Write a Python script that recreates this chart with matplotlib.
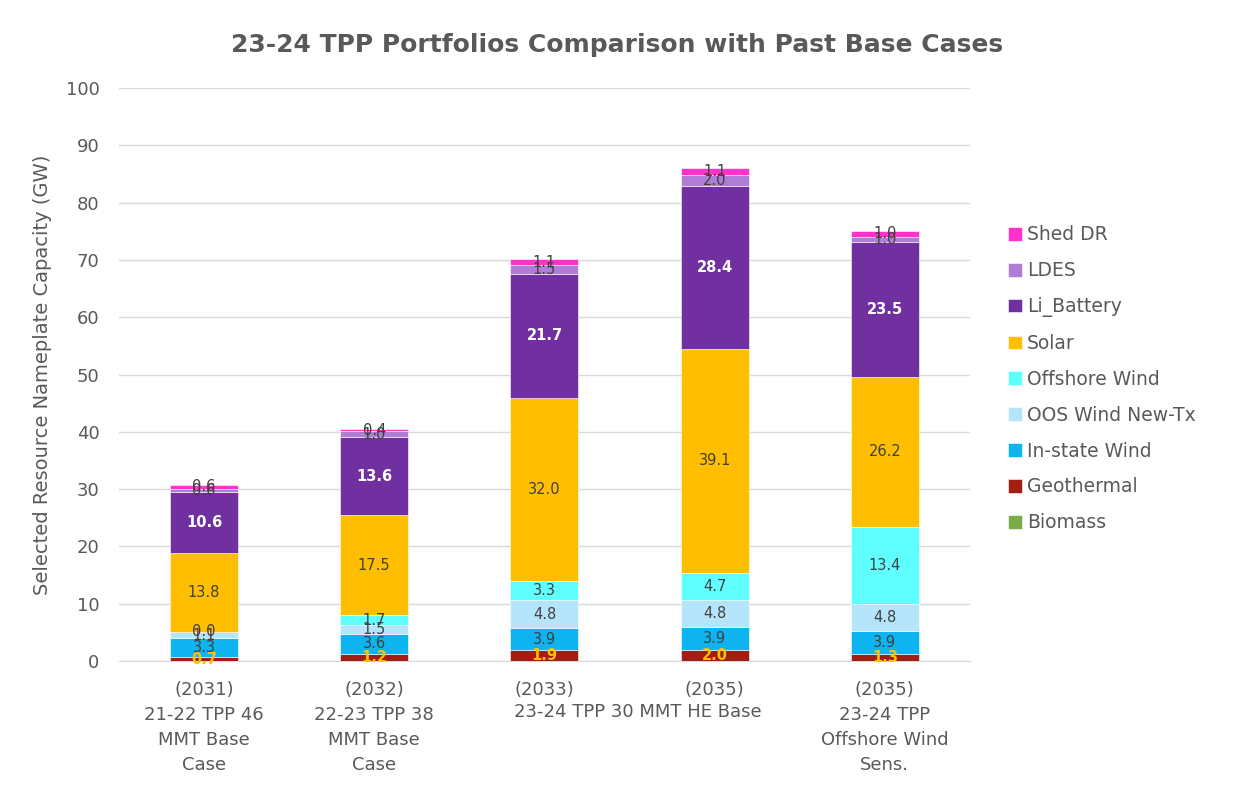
import matplotlib
matplotlib.use('Agg')
import matplotlib.pyplot as plt
import numpy as np

# --- Data (GW) ---
categories = ['(2031)\n21-22 TPP 46\nMMT Base\nCase',
              '(2032)\n22-23 TPP 38\nMMT Base\nCase',
              '(2033)',
              '(2035)',
              '(2035)\n23-24 TPP\nOffshore Wind\nSens.']
shared_label = '23-24 TPP 30 MMT HE Base'

resources = ['Biomass', 'Geothermal', 'In-state Wind', 'OOS Wind New-Tx',
             'Offshore Wind', 'Solar', 'Li_Battery', 'LDES', 'Shed DR']
biomass = [0.0, 0.0, 0.0, 0.0, 0.0]
geothermal = [0.7, 1.2, 1.9, 2.0, 1.3]
instate_wind = [3.3, 3.6, 3.9, 3.9, 3.9]
oos_wind = [1.1, 1.5, 4.8, 4.8, 4.8]
offshore_wind = [0.0, 1.7, 3.3, 4.7, 13.4]
solar = [13.8, 17.5, 32.0, 39.1, 26.2]
li_battery = [10.6, 13.6, 21.7, 28.4, 23.5]
ldes = [0.6, 1.0, 1.5, 2.0, 1.0]
shed_dr = [0.6, 0.4, 1.1, 1.1, 1.0]

series = [biomass, geothermal, instate_wind, oos_wind, offshore_wind,
          solar, li_battery, ldes, shed_dr]
colors = ['#7AAB48', '#A11F12', '#0EB4F0', '#B4E5FA', '#5FFFFF',
          '#FFBF00', '#7030A0', '#B07DD6', '#FF33CC']
label_colors = [None, '#FFC000', '#404040', '#404040', '#404040',
                '#404040', 'white', '#404040', '#404040']

gray = '#595959'
plt.rcParams['font.family'] = ['DejaVu Sans']

fig = plt.figure(figsize=(12.34, 7.87), dpi=100)
ax = fig.add_axes([0.0964, 0.160, 0.6896, 0.728])

x = np.arange(len(categories))
bottom = np.zeros(len(categories))
handles = []
for name, vals, col, lcol in zip(resources, series, colors, label_colors):
    vals = np.array(vals)
    bars = ax.bar(x, vals, width=0.4, bottom=bottom, color=col,
                  edgecolor='white', linewidth=0.4, label=name, zorder=3)
    handles.append(bars)
    if lcol is not None:
        weight = 'bold' if name in ('Li_Battery', 'Geothermal') else 'normal'
        for xi, v, b in zip(x, vals, bottom):
            ax.text(xi, b + v / 2, f'{v:.1f}', ha='center', va='center',
                    fontsize=10.5, color=lcol, fontweight=weight, zorder=4)
    bottom += vals

ax.set_xlim(-0.5, len(categories) - 0.5)
ax.set_ylim(0, 100)
ax.set_yticks(np.arange(0, 101, 10))
ax.grid(axis='y', color='#D9D9D9', linewidth=1, zorder=0)
for s in ['top', 'right', 'left']:
    ax.spines[s].set_visible(False)
ax.spines['bottom'].set_color('#D9D9D9')
ax.tick_params(axis='both', length=0, colors=gray, labelsize=13)
ax.tick_params(axis='y', pad=14)
ax.set_xticks(x)
ax.set_xticklabels(categories, fontsize=13, color=gray, linespacing=1.5)
ax.tick_params(axis='x', pad=14)
ax.text(2.55, -0.073, shared_label, transform=ax.get_xaxis_transform(),
        ha='center', va='top', fontsize=13, color=gray)

ax.set_ylabel('Selected Resource Nameplate Capacity (GW)', fontsize=14,
              color=gray, labelpad=10)
fig.suptitle('23-24 TPP Portfolios Comparison with Past Base Cases',
             x=0.5, y=0.958, fontsize=18, fontweight='bold', color=gray)

leg = ax.legend(handles[::-1], resources[::-1], loc='upper left',
                bbox_to_anchor=(1.025, 0.79), frameon=False, fontsize=13.5,
                labelcolor=gray, handlelength=0.75, handleheight=0.75,
                handletextpad=0.25, labelspacing=0.9)

fig.savefig('out.png', dpi=100)
